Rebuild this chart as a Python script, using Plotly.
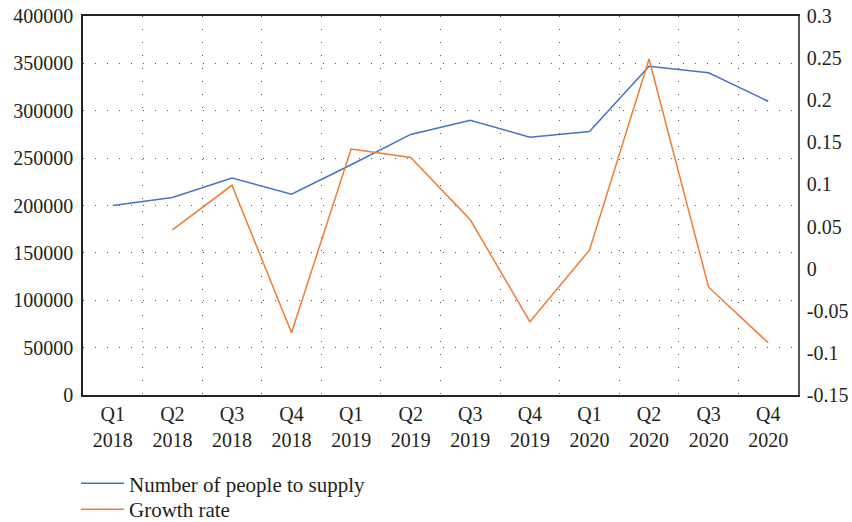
import plotly.graph_objects as go

quarters = ["Q1<br>2018", "Q2<br>2018", "Q3<br>2018", "Q4<br>2018",
            "Q1<br>2019", "Q2<br>2019", "Q3<br>2019", "Q4<br>2019",
            "Q1<br>2020", "Q2<br>2020", "Q3<br>2020", "Q4<br>2020"]
people = [200000, 208500, 229000, 212000, 243000, 275000,
          290000, 272000, 278000, 347000, 340000, 310000]
growth = [None, 0.046, 0.099, -0.076, 0.142, 0.132,
          0.058, -0.063, 0.022, 0.249, -0.022, -0.088]

left_ticks = [0, 50000, 100000, 150000, 200000, 250000, 300000, 350000, 400000]
right_ticks = [-0.15, -0.1, -0.05, 0, 0.05, 0.1, 0.15, 0.2, 0.25, 0.3]
right_labels = ["-0.15", "-0.1", "-0.05", "0", "0.05", "0.1",
                "0.15", "0.2", "0.25", "0.3"]

FONT = "Liberation Serif"
TXT = "#231f20"

fig = go.Figure()
fig.add_trace(go.Scatter(x=quarters, y=people, mode="lines",
                         name="Number of people to supply", legend="legend",
                         line=dict(color="#4472C4", width=1.5)))
fig.add_trace(go.Scatter(x=quarters, y=growth, mode="lines",
                         name="Growth rate", yaxis="y2", legend="legend2",
                         line=dict(color="#ED7D31", width=1.5)))

leg_common = dict(orientation="v", x=-0.0098, xanchor="left", yanchor="top",
                  font=dict(family=FONT, size=21, color=TXT),
                  itemwidth=43, bgcolor="rgba(0,0,0,0)")

fig.update_layout(
    width=852, height=522,
    margin=dict(l=83, r=54, t=16, b=127, autoexpand=False),
    paper_bgcolor="white", plot_bgcolor="white",
    font=dict(family=FONT, size=20, color=TXT),
    showlegend=True,
    legend=dict(y=-0.18, **leg_common),
    legend2=dict(y=-0.248, **leg_common),
    xaxis=dict(type="category", tickson="boundaries", range=[-0.5, 11.5],
               automargin=False,
               showgrid=True, gridcolor="#555", griddash="1px,12px", gridwidth=1,
               showline=True, linecolor="#222", linewidth=1.5, mirror=True,
               ticks="", tickfont=dict(size=20), ticklabelstandoff=0),
    yaxis=dict(range=[0, 400000], tickvals=left_ticks,
               ticktext=[str(v) for v in left_ticks], automargin=False,
               showgrid=True, gridcolor="#555", griddash="1px,11px", gridwidth=1,
               showline=True, linecolor="#222", linewidth=1.5,
               ticks="", tickfont=dict(size=20), zeroline=False,
               ticklabelstandoff=4),
    yaxis2=dict(range=[-0.15, 0.3], tickvals=right_ticks, ticktext=right_labels,
                overlaying="y", side="right", showgrid=False, zeroline=False,
                automargin=False,
                showline=True, linecolor="#555", linewidth=1.5,
                ticks="", tickfont=dict(size=20), ticklabelstandoff=3),
)

fig.write_html("out.html", config={"displayModeBar": False},
               post_script="document.body.style.margin='0';document.body.style.padding='0';")
